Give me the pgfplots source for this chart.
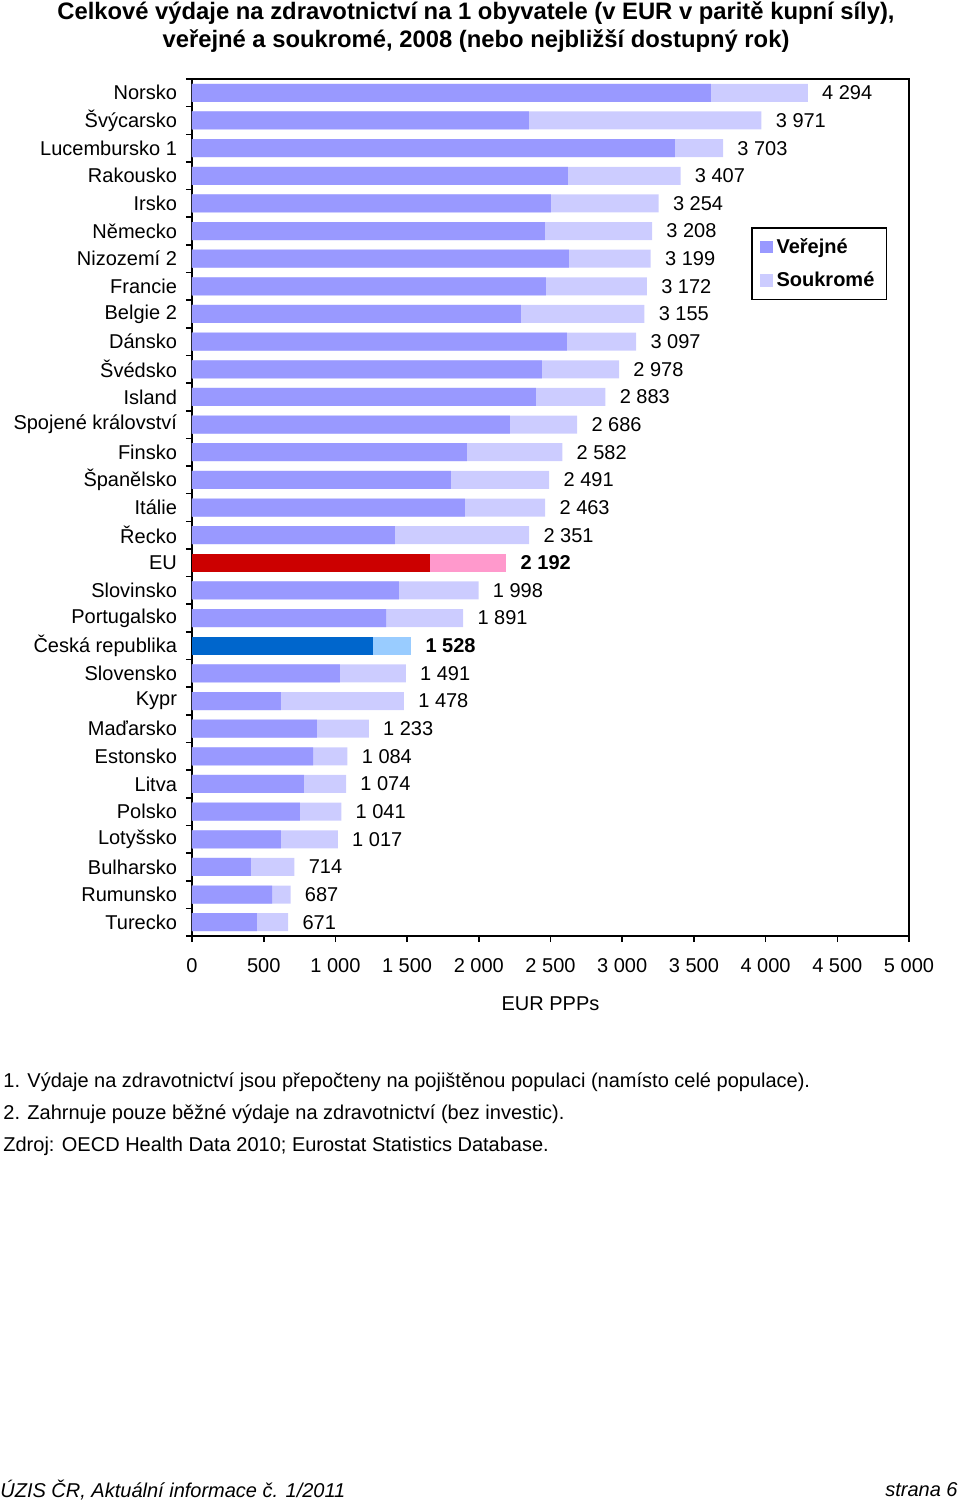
\documentclass[border=0pt]{standalone}
\usepackage{pgfplots}
\pgfplotsset{compat=1.18}
\usepackage{pgfplotstable}
\usepackage{fontspec}
\setmainfont{Liberation Sans}

\definecolor{pub}{HTML}{9999FF}
\definecolor{priv}{HTML}{CCCCFF}
\definecolor{eupub}{HTML}{CC0000}
\definecolor{eupriv}{HTML}{FF99CC}
\definecolor{czpub}{HTML}{0066CC}
\definecolor{czpriv}{HTML}{99CCFF}

% y = pořadí shora, public = veřejné, total = celkem
\pgfplotstableread{
y public total
0 3618 4294
1 2350 3971
2 3367 3703
3 2621 3407
4 2503 3254
5 2461 3208
6 2628 3199
7 2468 3172
8 2294 3155
9 2614 3097
10 2440 2978
11 2398 2883
12 2217 2686
13 1917 2582
14 1806 2491
15 1903 2463
16 1415 2351
18 1443 1998
19 1353 1891
21 1032 1491
22 620 1478
23 871 1233
24 844 1084
25 781 1074
26 753 1041
27 620 1017
28 411 714
29 558 687
30 453 671
}\countries

\pgfplotstableread{
y public total
17 1659 2192
}\eu

\pgfplotstableread{
y public total
20 1262 1528
}\cz

\begin{document}
\begin{tikzpicture}
\path[use as bounding box] (0,0) rectangle (480pt,-751.5pt);

\node[font=\bfseries\fontsize{11.9}{14}\selectfont, align=center] at (238pt,-13.5pt)
  {Celkové výdaje na zdravotnictví na 1 obyvatele (v EUR v paritě kupní síly),\\
   veřejné a soukromé, 2008 (nebo nejbližší dostupný rok)};

\begin{axis}[
  at={(96pt,-39.5pt)}, anchor=north west,
  scale only axis, width=358.5pt, height=428.5pt,
  xmin=0, xmax=5000, ymin=-0.5, ymax=30.5, y dir=reverse,
  xbar, bar width=9pt, bar shift=0pt,
  xtick={0,500,...,5000},
  ytick={0,...,30},
  yticklabels={Norsko,Švýcarsko,Lucembursko 1,Rakousko,Irsko,Německo,Nizozemí 2,Francie,Belgie 2,Dánsko,Švédsko,Island,Spojené království,Finsko,Španělsko,Itálie,Řecko,EU,Slovinsko,Portugalsko,Česká republika,Slovensko,Kypr,Maďarsko,Estonsko,Litva,Polsko,Lotyšsko,Bulharsko,Rumunsko,Turecko},
  minor ytick={-0.5,0.5,...,30.5},
  major y tick style={draw=none},
  minor y tick style={black, line width=0.8pt},
  major x tick style={black, line width=0.8pt},
  tick align=outside, xtick pos=bottom, ytick pos=left,
  major tick length=3pt, minor tick length=3pt,
  axis line style={line width=0.8pt},
  tick label style={font=\fontsize{10}{12}\selectfont},
  xticklabel style={yshift=-4.5pt},
  yticklabel style={xshift=-1pt},
  xlabel={EUR PPPs},
  xlabel style={font=\fontsize{10}{12}\selectfont, yshift=-5.5pt},
  /pgf/number format/.cd, 1000 sep={\ }, fixed, precision=0, assume math mode=true,
  /pgfplots/.cd,
  nodes near coords={\pgfmathprintnumber{\pgfplotspointmeta}},
  every node near coord/.append style={anchor=west, inner sep=0pt, xshift=7pt, font=\fontsize{10}{12}\selectfont},
  legend style={at={(0.7796,0.827)}, anchor=north west, draw=black, line width=0.8pt,
    font=\bfseries\fontsize{10}{12}\selectfont, row sep=4pt, inner xsep=4pt, inner ysep=3pt},
  legend cell align=left,
  legend image code/.code={\fill[#1, draw=none] (0pt,-3.2pt) rectangle (6.4pt,3.2pt);},
]
\addlegendimage{fill=pub}
\addlegendentry{Veřejné}
\addlegendimage{fill=priv}
\addlegendentry{Soukromé}

\addplot[fill=priv, draw=none, point meta=x] table[x=total, y=y]{\countries};
\addplot[fill=pub, draw=none, nodes near coords={}] table[x=public, y=y]{\countries};

\addplot[fill=eupriv, draw=none, point meta=x,
  every node near coord/.append style={font=\bfseries\fontsize{10}{12}\selectfont}] table[x=total, y=y]{\eu};
\addplot[fill=eupub, draw=none, nodes near coords={}] table[x=public, y=y]{\eu};

\addplot[fill=czpriv, draw=none, point meta=x,
  every node near coord/.append style={font=\bfseries\fontsize{10}{12}\selectfont}] table[x=total, y=y]{\cz};
\addplot[fill=czpub, draw=none, nodes near coords={}] table[x=public, y=y]{\cz};
\end{axis}

\begin{scope}[every node/.style={anchor=west, inner sep=0pt, font=\fontsize{10}{12}\selectfont}]
\node at (1.5pt,-541pt) {1. Výdaje na zdravotnictví jsou přepočteny na pojištěnou populaci (namísto celé populace).};
\node at (1.5pt,-557pt) {2. Zahrnuje pouze běžné výdaje na zdravotnictví (bez investic).};
\node at (1.5pt,-573pt) {Zdroj: OECD Health Data 2010; Eurostat Statistics Database.};
\node[font=\itshape\fontsize{10}{12}\selectfont] at (0pt,-745pt) {ÚZIS ČR, Aktuální informace č. 1/2011};
\node[anchor=east, font=\itshape\fontsize{10}{12}\selectfont] at (479pt,-745pt) {strana 6};
\end{scope}
\end{tikzpicture}
\end{document}
